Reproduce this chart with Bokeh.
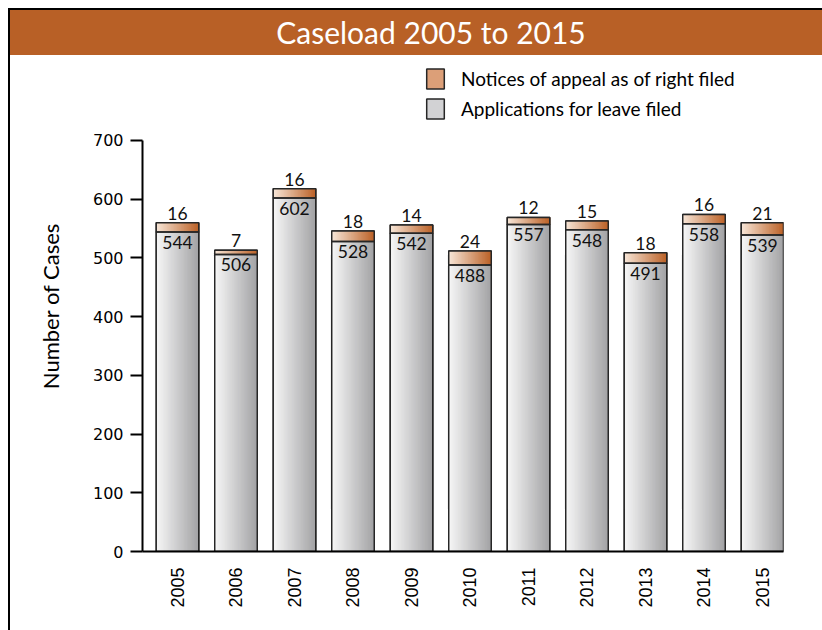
import numpy as np
from bokeh.plotting import figure
from bokeh.models import Range1d, FixedTicker, Legend, LegendItem, Div
from bokeh.layouts import column, row
from bokeh.embed import file_html
from bokeh.resources import INLINE
from bokeh.core.properties import value

# ---------------- data ----------------
years = [2005, 2006, 2007, 2008, 2009, 2010, 2011, 2012, 2013, 2014, 2015]
applications = [544, 506, 602, 528, 542, 488, 557, 548, 491, 558, 539]
notices = [16, 7, 16, 18, 14, 24, 12, 15, 18, 16, 21]
y_ticks = [0, 100, 200, 300, 400, 500, 600, 700]
series_names = ["Notices of appeal as of right filed", "Applications for leave filed"]
title_text = "Caseload 2005 to 2015"
y_label = "Number of Cases"

totals = [a + n for a, n in zip(applications, notices)]

# ---------------- styling ----------------
BAR_W = 0.727
N_STRIPS = 30
GRAY_L, GRAY_R = (248, 248, 248), (163, 163, 165)
ORNG_L, ORNG_R = (248, 232, 218), (188, 98, 40)
Y_MAX_AXIS = 700
Y_VIEW_TOP = 836.25  # frame extends above the axis to hold the legend


def mix(c1, c2, t):
    return "#%02x%02x%02x" % tuple(int(round(a + (b - a) * t)) for a, b in zip(c1, c2))


p = figure(width=812, height=575,
           x_range=Range1d(2004.402, 2015.359), y_range=Range1d(0, Y_VIEW_TOP),
           output_backend="svg", toolbar_location=None, tools="",
           min_border_left=132, min_border_right=39,
           min_border_top=5, min_border_bottom=79)
p.outline_line_color = None
p.xgrid.visible = False
p.ygrid.visible = False
p.background_fill_color = "white"
p.border_fill_color = "white"

# solid base bars (also used as legend swatches), covered by gradient strips
r_a = p.vbar(x=years, bottom=0, top=applications, width=BAR_W,
             fill_color="#d2d2d4", line_color="#262626", line_width=1.5)
r_n = p.vbar(x=years, bottom=applications, top=totals, width=BAR_W,
             fill_color="#dc9f78", line_color="#262626", line_width=1.5)

# gradient strips for each bar segment
sx, sb, st, sc = [], [], [], []
for i, yr in enumerate(years):
    for j in range(N_STRIPS):
        t = (j + 0.5) / N_STRIPS
        x = yr - BAR_W / 2 + t * BAR_W
        sx.append(x); sb.append(0); st.append(applications[i])
        sc.append(mix(GRAY_L, GRAY_R, t))
        sx.append(x); sb.append(applications[i]); st.append(totals[i])
        sc.append(mix(ORNG_L, ORNG_R, t))
p.vbar(x=sx, bottom=sb, top=st, width=BAR_W / N_STRIPS * 1.7,
       fill_color=sc, line_color=None)

# outlines
p.vbar(x=years, bottom=0, top=applications, width=BAR_W,
       fill_color=None, line_color="#262626", line_width=1.5)
p.vbar(x=years, bottom=applications, top=totals, width=BAR_W,
       fill_color=None, line_color="#262626", line_width=1.5)

# value labels
p.text(x=years, y=applications, text=[str(v) for v in applications],
       text_align="center", text_baseline="top", y_offset=4,
       text_font=value("Lato"), text_font_size="17.5px", text_color="#111111")
p.text(x=years, y=totals, text=[str(v) for v in notices],
       text_align="center", text_baseline="bottom", y_offset=-3,
       text_font=value("Lato"), text_font_size="17.5px", text_color="#111111")

# axes
xa = p.xaxis[0]
xa.ticker = FixedTicker(ticks=years)
xa.major_label_overrides = {yr: str(yr) for yr in years}
xa.major_label_orientation = np.pi / 2
xa.major_tick_line_color = None
xa.minor_tick_line_color = None
xa.axis_line_width = 2
xa.axis_line_color = "black"
xa.major_label_standoff = 10
xa.major_label_text_font = "Liberation Sans"
xa.major_label_text_font_size = "18px"
xa.major_label_text_color = "black"

ya = p.yaxis[0]
ya.ticker = FixedTicker(ticks=y_ticks)
ya.bounds = (0, Y_MAX_AXIS)
ya.major_tick_out = 12
ya.major_tick_in = 0
ya.major_tick_line_width = 2
ya.major_tick_line_color = "black"
ya.minor_tick_line_color = None
ya.axis_line_width = 2
ya.axis_line_color = "black"
ya.major_label_standoff = 7
ya.major_label_text_font = "DejaVu Sans"
ya.major_label_text_font_size = "16px"
ya.major_label_text_color = "black"
ya.axis_label = y_label
ya.axis_label_text_font = "Lato"
ya.axis_label_text_font_size = "22px"
ya.axis_label_text_font_style = "normal"
ya.axis_label_text_color = "black"
ya.axis_label_standoff = 26

# legend (solid swatches)
legend = Legend(items=[LegendItem(label=series_names[0], renderers=[r_n], index=0),
                       LegendItem(label=series_names[1], renderers=[r_a], index=0)],
                location=(282, 430), orientation="vertical",
                glyph_width=22, glyph_height=25, label_standoff=15, spacing=5,
                padding=0, margin=0, border_line_color=None,
                background_fill_alpha=0,
                label_text_font="Lato", label_text_font_size="19px",
                label_text_color="black")
p.add_layout(legend)

title_div = Div(
    text=('<div style="box-sizing:border-box;width:814px;height:47px;background:#B86026;'
          'border-top:2px solid #000;border-left:2px solid #000;color:#ffffff;'
          'font-family:Lato;font-size:30px;line-height:45px;text-align:center;'
          'padding-left:30px;">' + title_text + '</div>'),
    width=814, height=47, margin=(0, 0, 0, 0))
border_div = Div(text='<div style="width:2px;height:575px;background:#000"></div>',
                 width=2, height=575, margin=(0, 0, 0, 0))

layout = column(title_div, row(border_div, p, spacing=0), spacing=0,
                margin=(8, 0, 0, 8))

open("out.html", "w").write(file_html(layout, INLINE))
